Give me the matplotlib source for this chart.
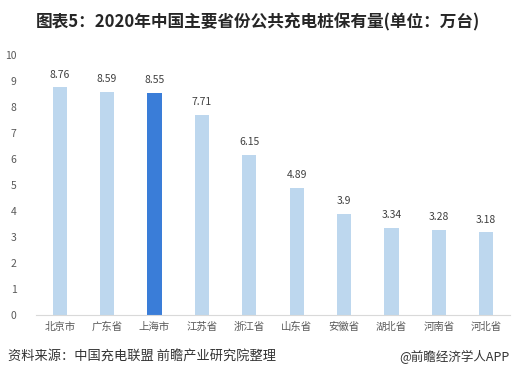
import matplotlib.pyplot as plt
import numpy as np

plt.rcParams['font.family'] = ['Noto Sans CJK SC', 'DejaVu Sans']

provinces = ['北京市', '广东省', '上海市', '江苏省', '浙江省',
             '山东省', '安徽省', '湖北省', '河南省', '河北省']
values = [8.76, 8.59, 8.55, 7.71, 6.15, 4.89, 3.9, 3.34, 3.28, 3.18]
highlight = '上海市'

fig = plt.figure(figsize=(5.15, 3.8), dpi=100)
ax = fig.add_axes([0.07, 0.171, 0.92, 0.684])

x = np.arange(len(provinces))
colors = ['#3a7dd8' if p == highlight else '#bdd7ee' for p in provinces]
ax.bar(x, values, width=0.3, color=colors, zorder=2)
for xi, v in zip(x, values):
    ax.text(xi, v + 0.3, f'{v:g}', ha='center', va='bottom',
            fontsize=7.5, color='#404040')

ax.set_xlim(-0.5, len(provinces) - 0.5)
ax.set_ylim(0, 10)
ax.set_yticks(range(0, 11))
ax.set_xticks(x)
ax.set_xticklabels(provinces)
ax.tick_params(axis='both', length=0, labelsize=7.5, colors='#595959')
ax.tick_params(axis='x', pad=5)
ax.tick_params(axis='y', pad=14)
for side in ['top', 'right', 'left']:
    ax.spines[side].set_visible(False)
ax.spines['bottom'].set_color('#d9d9d9')

fig.text(0.5, 0.942, '图表5：2020年中国主要省份公共充电桩保有量(单位：万台)',
         ha='center', va='center', fontsize=12, fontweight='bold',
         color='#262626')
fig.text(0.015, 0.06, '资料来源：中国充电联盟 前瞻产业研究院整理',
         ha='left', va='center', fontsize=9.5, color='#333333')
fig.text(0.99, 0.06, '@前瞻经济学人APP',
         ha='right', va='center', fontsize=9, color='#333333')

fig.savefig('out.png', dpi=100)
